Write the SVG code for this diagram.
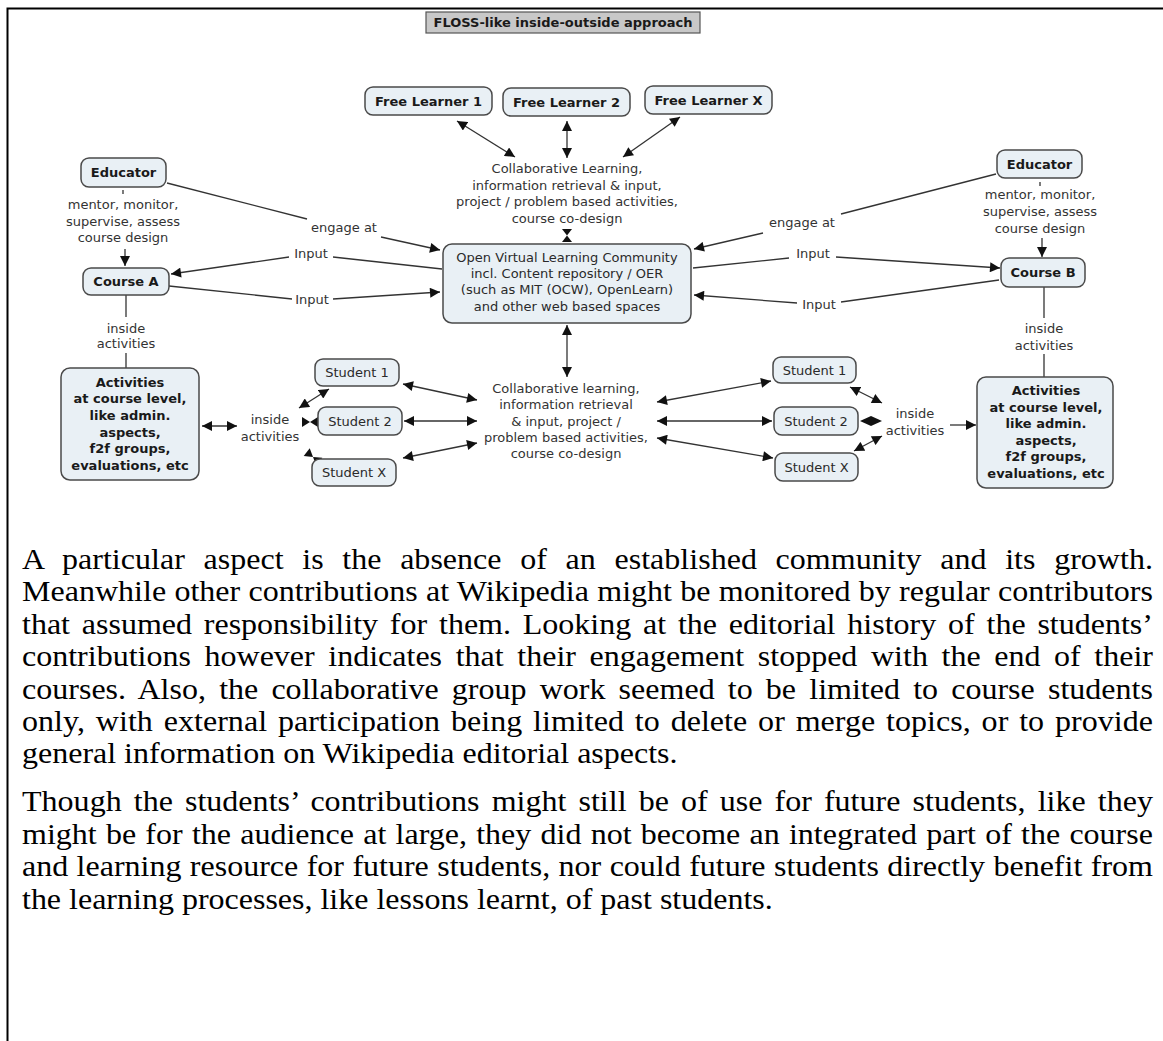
<svg xmlns="http://www.w3.org/2000/svg" width="1163" height="1041" viewBox="0 0 1163 1041">
<style>
.bg{fill:#ffffff}
.frame{stroke:#000;stroke-width:2;fill:none}
.node{fill:#e9f0f5;stroke:#4a4a4a;stroke-width:1.5}
.title{fill:#c8c8c8;stroke:#555;stroke-width:1.2}
.nb{font-family:"DejaVu Sans",Verdana,sans-serif;font-size:13px;font-weight:bold;fill:#1a1a1a;text-anchor:middle}
.nr{font-family:"DejaVu Sans",Verdana,sans-serif;font-size:13px;fill:#2a2a2a;text-anchor:middle}
.lbl{font-family:"DejaVu Sans",Verdana,sans-serif;font-size:13px;fill:#333;text-anchor:middle}
.con line{stroke:#333;stroke-width:1.3;fill:none}
.con polygon{fill:#111}
.para{font-family:"Liberation Serif","Times New Roman",serif;font-size:29.2px;fill:#000}
</style>
<defs>
<marker id="ah" viewBox="0 0 10 10" refX="10" refY="5" markerWidth="11" markerHeight="10" markerUnits="userSpaceOnUse" orient="auto-start-reverse">
<path d="M0,0 L10,5 L0,10 z" fill="#111"/>
</marker>
</defs>
<rect class="bg" x="0" y="0" width="1163" height="1041"/>
<path class="frame" d="M7.5,1041 V8.5 H1163"/>

<g id="title">
<rect class="title" x="426" y="12" width="274" height="21"/>
<text class="nb" x="563" y="27">FLOSS-like inside-outside approach</text>
</g>

<g id="connectors" class="con">
<line x1="457" y1="121" x2="515" y2="157" marker-start="url(#ah)" marker-end="url(#ah)"/>
<line x1="567" y1="121" x2="567" y2="158" marker-start="url(#ah)" marker-end="url(#ah)"/>
<line x1="680" y1="117" x2="623" y2="157" marker-start="url(#ah)" marker-end="url(#ah)"/>
<polygon points="562,229 572,229 567,235.5"/>
<polygon points="567,235.5 562,242 572,242"/>
<line x1="123" y1="190" x2="123" y2="194"/>
<line x1="125" y1="249" x2="125" y2="266" marker-end="url(#ah)"/>
<line x1="167" y1="183" x2="307" y2="219"/>
<line x1="381" y1="237" x2="440" y2="250" marker-end="url(#ah)"/>
<line x1="442" y1="269" x2="333" y2="257"/>
<line x1="289" y1="257" x2="171" y2="274" marker-end="url(#ah)"/>
<line x1="169" y1="286" x2="292" y2="299"/>
<line x1="333" y1="299" x2="440" y2="292" marker-end="url(#ah)"/>
<line x1="126" y1="295" x2="126" y2="317"/>
<line x1="126" y1="353" x2="126" y2="368"/>
<line x1="202" y1="426" x2="237" y2="426" marker-start="url(#ah)" marker-end="url(#ah)"/>
<line x1="299" y1="408" x2="329" y2="389" marker-start="url(#ah)" marker-end="url(#ah)"/>
<polygon points="302,417 302,427 310,422"/>
<polygon points="318,417 318,427 310,422"/>
<polygon points="313,457 303.7,456.1 309.7,448.2"/>
<polygon points="313,457 316.3,465.7 322.3,457.8"/>
<line x1="567" y1="325" x2="567" y2="377" marker-start="url(#ah)" marker-end="url(#ah)"/>
<line x1="403" y1="384" x2="477" y2="400" marker-start="url(#ah)" marker-end="url(#ah)"/>
<line x1="404" y1="421" x2="477" y2="421" marker-start="url(#ah)" marker-end="url(#ah)"/>
<line x1="403" y1="458" x2="477" y2="443" marker-start="url(#ah)" marker-end="url(#ah)"/>
<line x1="657" y1="402" x2="771" y2="381" marker-start="url(#ah)" marker-end="url(#ah)"/>
<line x1="657" y1="421" x2="772" y2="421" marker-start="url(#ah)" marker-end="url(#ah)"/>
<line x1="657" y1="438" x2="773" y2="458" marker-start="url(#ah)" marker-end="url(#ah)"/>
<line x1="850" y1="387" x2="882" y2="403" marker-start="url(#ah)" marker-end="url(#ah)"/>
<polygon points="860,421 871,416 871,426"/>
<polygon points="882,421 871,416 871,426"/>
<line x1="854" y1="451" x2="882" y2="436" marker-start="url(#ah)" marker-end="url(#ah)"/>
<line x1="950" y1="425" x2="976" y2="425" marker-end="url(#ah)"/>
<line x1="1044" y1="287" x2="1044" y2="318"/>
<line x1="1044" y1="354" x2="1044" y2="377"/>
<line x1="1040" y1="182" x2="1040" y2="186"/>
<line x1="1042" y1="238" x2="1042" y2="257" marker-end="url(#ah)"/>
<line x1="996" y1="174" x2="841" y2="214"/>
<line x1="763" y1="233" x2="694" y2="249" marker-end="url(#ah)"/>
<line x1="693" y1="268" x2="789" y2="258"/>
<line x1="836" y1="257" x2="1000" y2="268" marker-end="url(#ah)"/>
<line x1="999" y1="280" x2="841" y2="302"/>
<line x1="797" y1="303" x2="694" y2="295" marker-end="url(#ah)"/>
</g>

<g id="free-learner-1"><rect class="node" x="365" y="87" width="127" height="28" rx="8"/><text class="nb" x="428.5" y="106">Free Learner 1</text></g>
<g id="free-learner-2"><rect class="node" x="503" y="88" width="127" height="28" rx="8"/><text class="nb" x="566.5" y="107">Free Learner 2</text></g>
<g id="free-learner-x"><rect class="node" x="645" y="86" width="127" height="28" rx="8"/><text class="nb" x="708.5" y="105">Free Learner X</text></g>

<g id="collab-top">
<text class="lbl" x="567" y="173">Collaborative Learning,</text>
<text class="lbl" x="567" y="190">information retrieval &amp; input,</text>
<text class="lbl" x="567" y="206">project / problem based activities,</text>
<text class="lbl" x="567" y="223">course co-design</text>
</g>

<g id="ovlc"><rect class="node" x="443" y="244" width="248" height="79" rx="9"/>
<text class="nr" x="567" y="262">Open Virtual Learning Community</text>
<text class="nr" x="567" y="278">incl. Content repository / OER</text>
<text class="nr" x="567" y="294">(such as MIT (OCW), OpenLearn)</text>
<text class="nr" x="567" y="311">and other web based spaces</text>
</g>

<g id="educator-left"><rect class="node" x="81" y="158" width="85" height="29" rx="8"/><text class="nb" x="123.5" y="177">Educator</text></g>
<g id="mentor-left">
<text class="lbl" x="123" y="209">mentor, monitor,</text>
<text class="lbl" x="123" y="226">supervise, assess</text>
<text class="lbl" x="123" y="242">course design</text>
</g>
<g id="course-a"><rect class="node" x="83" y="268" width="86" height="27" rx="8"/><text class="nb" x="126" y="286">Course A</text></g>
<g id="engage-left"><text class="lbl" x="344" y="232">engage at</text></g>
<g id="input-left-1"><text class="lbl" x="311" y="258">Input</text></g>
<g id="input-left-2"><text class="lbl" x="312" y="304">Input</text></g>
<g id="inside-a"><text class="lbl" x="126" y="333">inside</text><text class="lbl" x="126" y="348">activities</text></g>
<g id="activities-left"><rect class="node" x="61" y="368" width="138" height="112" rx="9"/>
<text class="nb" x="130" y="387">Activities</text>
<text class="nb" x="130" y="403">at course level,</text>
<text class="nb" x="130" y="420">like admin.</text>
<text class="nb" x="130" y="437">aspects,</text>
<text class="nb" x="130" y="453">f2f groups,</text>
<text class="nb" x="130" y="470">evaluations, etc</text>
</g>
<g id="inside-left"><text class="lbl" x="270" y="424">inside</text><text class="lbl" x="270" y="441">activities</text></g>
<g id="student-1-left"><rect class="node" x="315" y="359" width="84" height="27" rx="8"/><text class="nr" x="357" y="377">Student 1</text></g>
<g id="student-2-left"><rect class="node" x="318" y="407" width="84" height="28" rx="8"/><text class="nr" x="360" y="426">Student 2</text></g>
<g id="student-x-left"><rect class="node" x="312" y="459" width="84" height="27" rx="8"/><text class="nr" x="354" y="477">Student X</text></g>

<g id="collab-bottom">
<text class="lbl" x="566" y="393">Collaborative learning,</text>
<text class="lbl" x="566" y="409">information retrieval</text>
<text class="lbl" x="566" y="426">&amp; input, project /</text>
<text class="lbl" x="566" y="442">problem based activities,</text>
<text class="lbl" x="566" y="458">course co-design</text>
</g>

<g id="student-1-right"><rect class="node" x="773" y="357" width="83" height="26" rx="8"/><text class="nr" x="814.5" y="375">Student 1</text></g>
<g id="student-2-right"><rect class="node" x="774" y="407" width="84" height="28" rx="8"/><text class="nr" x="816" y="426">Student 2</text></g>
<g id="student-x-right"><rect class="node" x="775" y="453" width="83" height="28" rx="8"/><text class="nr" x="816.5" y="472">Student X</text></g>
<g id="inside-right"><text class="lbl" x="915" y="418">inside</text><text class="lbl" x="915" y="435">activities</text></g>
<g id="activities-right"><rect class="node" x="977" y="377" width="136" height="111" rx="9"/>
<text class="nb" x="1046" y="395">Activities</text>
<text class="nb" x="1046" y="412">at course level,</text>
<text class="nb" x="1046" y="428">like admin.</text>
<text class="nb" x="1046" y="445">aspects,</text>
<text class="nb" x="1046" y="461">f2f groups,</text>
<text class="nb" x="1046" y="478">evaluations, etc</text>
</g>

<g id="educator-right"><rect class="node" x="997" y="150" width="85" height="28" rx="8"/><text class="nb" x="1039.5" y="169">Educator</text></g>
<g id="mentor-right">
<text class="lbl" x="1040" y="199">mentor, monitor,</text>
<text class="lbl" x="1040" y="216">supervise, assess</text>
<text class="lbl" x="1040" y="233">course design</text>
</g>
<g id="course-b"><rect class="node" x="1001" y="258" width="84" height="29" rx="8"/><text class="nb" x="1043" y="277">Course B</text></g>
<g id="engage-right"><text class="lbl" x="802" y="227">engage at</text></g>
<g id="input-right-1"><text class="lbl" x="813" y="258">Input</text></g>
<g id="input-right-2"><text class="lbl" x="819" y="309">Input</text></g>
<g id="inside-b"><text class="lbl" x="1044" y="333">inside</text><text class="lbl" x="1044" y="350">activities</text></g>

<g id="paragraph-1" class="para" transform="scale(1.0959,1)">
<text x="20.07" y="569" textLength="1032" lengthAdjust="spacing" word-spacing="9.67">A particular aspect is the absence of an established community and its growth.</text>
<text x="20.07" y="601.4" textLength="1032" lengthAdjust="spacing" word-spacing="0.18">Meanwhile other contributions at Wikipedia might be monitored by regular contributors</text>
<text x="20.07" y="633.8" textLength="1032" lengthAdjust="spacing" word-spacing="3.47">that assumed responsibility for them. Looking at the editorial history of the students’</text>
<text x="20.07" y="666.2" textLength="1032" lengthAdjust="spacing" word-spacing="5.11">contributions however indicates that their engagement stopped with the end of their</text>
<text x="20.07" y="698.6" textLength="1032" lengthAdjust="spacing" word-spacing="4.65">courses. Also, the collaborative group work seemed to be limited to course students</text>
<text x="20.07" y="731" textLength="1032" lengthAdjust="spacing" word-spacing="2.55">only, with external participation being limited to delete or merge topics, or to provide</text>
<text x="20.07" y="763.4">general information on Wikipedia editorial aspects.</text>
</g>
<g id="paragraph-2" class="para" transform="scale(1.0959,1)">
<text x="20.07" y="811.5" textLength="1032" lengthAdjust="spacing" word-spacing="3.65">Though the students’ contributions might still be of use for future students, like they</text>
<text x="20.07" y="843.9" textLength="1032" lengthAdjust="spacing" word-spacing="1.09">might be for the audience at large, they did not become an integrated part of the course</text>
<text x="20.07" y="876.3" textLength="1032" lengthAdjust="spacing" word-spacing="0.37">and learning resource for future students, nor could future students directly benefit from</text>
<text x="20.07" y="908.7">the learning processes, like lessons learnt, of past students.</text>
</g>
</svg>
